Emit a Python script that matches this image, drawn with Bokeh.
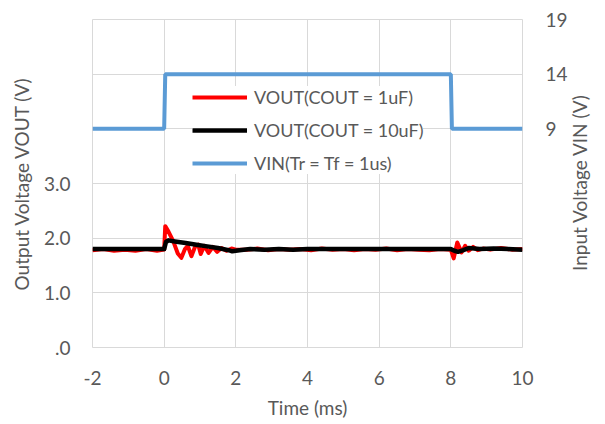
from bokeh.plotting import figure
from bokeh.models import Range1d, LinearAxis, FixedTicker, Legend, LegendItem
from bokeh.embed import file_html
from bokeh.resources import INLINE
import math

# ---- data ----
t_vin = [-2, 0, 0.03, 8, 8.03, 10]
vin = [9, 9, 14, 14, 9, 9]

t_c10 = [-2, -1.5, -1, -0.5, 0, 0.05, 0.12, 0.3, 0.6, 0.9, 1.2, 1.5, 1.8, 1.9, 2.1,
         2.4, 2.8, 3.2, 3.6, 4, 4.5, 5, 5.5, 6, 6.5, 7, 7.5, 8, 8.1, 8.2,
         8.35, 8.5, 8.8, 9.2, 9.6, 10]
v_c10 = [1.80, 1.80, 1.80, 1.80, 1.80, 1.93, 1.96, 1.94, 1.91, 1.88, 1.85, 1.82, 1.78, 1.76, 1.78,
         1.80, 1.79, 1.80, 1.79, 1.80, 1.80, 1.80, 1.80, 1.80, 1.80, 1.80, 1.80, 1.80, 1.77, 1.75,
         1.78, 1.82, 1.80, 1.81, 1.80, 1.79]

t_c1 = [-2, -1.7, -1.4, -1.1, -0.8, -0.5, -0.2, 0, 0.03, 0.12, 0.25, 0.38, 0.48,
        0.58, 0.66, 0.76, 0.86, 0.95, 1.02, 1.12, 1.24, 1.36, 1.48, 1.6, 1.74, 1.88, 2.0,
        2.3, 2.6, 2.9, 3.2, 3.5, 3.8, 4.1, 4.4, 4.7, 5.0, 5.3, 5.6, 5.9, 6.2, 6.5, 6.8,
        7.1, 7.4, 7.7, 8.0, 8.08, 8.18, 8.3, 8.4, 8.5, 8.62, 8.75, 8.9, 9.1, 9.4, 9.7, 10]
v_c1 = [1.78, 1.80, 1.77, 1.79, 1.77, 1.80, 1.77, 1.79, 2.22, 2.12, 1.95, 1.72, 1.64,
        1.80, 1.86, 1.67, 1.84, 1.88, 1.71, 1.86, 1.73, 1.84, 1.75, 1.82, 1.77, 1.81, 1.79,
        1.79, 1.81, 1.78, 1.80, 1.79, 1.80, 1.78, 1.81, 1.79, 1.80, 1.78, 1.80, 1.79, 1.81,
        1.78, 1.80, 1.79, 1.78, 1.80, 1.79, 1.63, 1.92, 1.74, 1.86, 1.77, 1.84, 1.78, 1.81,
        1.79, 1.82, 1.79, 1.80]

x_ticks = [-2, 0, 2, 4, 6, 8, 10]
x_labels = {-2: "-2"}
left_ticks = [0, 1, 2, 3, 4, 5, 6]
left_labels = {0: ".0", 1: "1.0", 2: "2.0", 3: "3.0", 4: "", 5: "", 6: ""}
right_ticks = [-11, -6, -1, 4, 9, 14, 19]
right_labels = {-11: "", -6: "", -1: "", 4: "", 9: "9", 14: "14", 19: "19"}
right_title = "Input Voltage VIN (V)"

labels = ["VOUT(COUT = 1uF)", "VOUT(COUT = 10uF)", "VIN(Tr = Tf = 1us)"]

FONT = "Lato"
TXT = "#595959"
GRID = "#D9D9D9"

p = figure(width=605, height=424, x_range=Range1d(-2, 10), y_range=Range1d(0, 6),
           output_backend="svg", toolbar_location=None,
           min_border_left=92, min_border_right=83, min_border_top=19, min_border_bottom=77)
p.extra_y_ranges = {"vin": Range1d(-11, 19)}
p.outline_line_color = GRID
p.background_fill_color = "white"
p.border_fill_color = "white"

# axes
p.xaxis.ticker = FixedTicker(ticks=x_ticks)
p.xaxis.major_label_overrides = x_labels
p.yaxis.ticker = FixedTicker(ticks=left_ticks)
p.yaxis.major_label_overrides = left_labels
p.xaxis.axis_label = "Time (ms)"
p.yaxis.axis_label = "Output Voltage VOUT (V)"

# right axis with tick labels
raxis = LinearAxis(y_range_name="vin", ticker=FixedTicker(ticks=right_ticks),
                   major_label_overrides=right_labels)
p.add_layout(raxis, "right")

# second right axis carrying the title as a single rotated label (reads bottom to top)
rtitle = LinearAxis(y_range_name="vin", ticker=FixedTicker(ticks=[-4]),
                    major_label_overrides={-4: right_title},
                    major_label_orientation=math.pi / 2)
p.add_layout(rtitle, "right")

for ax in [p.xaxis[0], p.yaxis[0], raxis, rtitle]:
    ax.axis_line_color = None
    ax.major_tick_line_color = None
    ax.minor_tick_line_color = None
    ax.major_tick_out = 0
    ax.major_tick_in = 0
    ax.major_label_text_font = FONT
    ax.major_label_text_font_size = "19px"
    ax.major_label_text_color = TXT
    ax.axis_label_text_font = FONT
    ax.axis_label_text_font_size = "19px"
    ax.axis_label_text_font_style = "normal"
    ax.axis_label_text_color = TXT

p.xaxis.major_label_standoff = 23
p.xaxis.axis_label_standoff = 8
p.yaxis.major_label_standoff = 22
p.yaxis.axis_label_standoff = 8
raxis.major_label_standoff = 23
rtitle.major_label_standoff = 9

p.xgrid.grid_line_color = GRID
p.ygrid.grid_line_color = GRID

# lines
r1 = p.line(t_c1, v_c1, line_color="#FF0000", line_width=4, line_join="round")
r2 = p.line(t_c10, v_c10, line_color="#000000", line_width=4.5, line_join="round")
r3 = p.line(t_vin, vin, line_color="#5B9BD5", line_width=4, y_range_name="vin")

legend = Legend(items=[LegendItem(label=labels[0], renderers=[r1]),
                       LegendItem(label=labels[1], renderers=[r2]),
                       LegendItem(label=labels[2], renderers=[r3])],
                location=(100, 173))
legend.label_text_font = FONT
legend.label_text_font_size = "18px"
legend.label_text_color = TXT
legend.glyph_width = 55
legend.glyph_height = 20
legend.label_height = 20
legend.label_standoff = 7
legend.spacing = 11
legend.padding = 5
legend.margin = 0
legend.border_line_color = None
legend.background_fill_color = "white"
legend.background_fill_alpha = 1.0
p.add_layout(legend)

open("out.html", "w").write(file_html(p, INLINE))
